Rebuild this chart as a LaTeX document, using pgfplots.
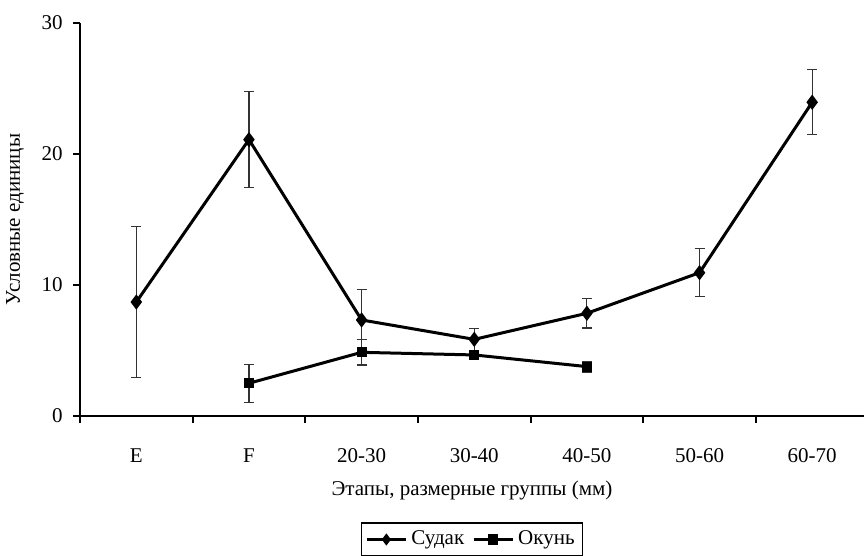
\documentclass[border=0pt]{standalone}
\usepackage{fontspec}
\setmainfont{Liberation Serif}
\usepackage{pgfplots}
\pgfplotsset{compat=1.18}
\usepackage{pgfplotstable}
\pgfplotstableread{
x y e
0 8.70 5.75
1 21.10 3.65
2 7.33 2.33
3 5.85 0.84
4 7.84 1.12
5 10.94 1.83
6 23.95 2.48
}\sudak
\pgfplotstableread{
x y e
1 2.50 1.45
2 4.86 0.97
3 4.66 0.30
4 3.77 0.42
}\okun
\begin{document}
\fontsize{10.5}{12}\selectfont
\begin{tikzpicture}[font=\fontsize{10.5}{12}\selectfont]
\begin{axis}[
  at={(0,0)}, anchor=south west,
  scale only axis, width=392pt, height=196.5pt,
  xmin=-0.5, xmax=6.46, ymin=0, ymax=30,
  axis x line*=bottom, axis y line*=left,
  axis line style={line width=1pt, -},
  xtick={-0.5,0.5,1.5,2.5,3.5,4.5,5.5},
  xticklabels={E,F,20-30,30-40,40-50,50-60,60-70},
  xticklabel style={anchor=base, xshift=28.16pt, yshift=-20pt},
  ytick={0,10,20,30},
  yticklabel style={anchor=east, xshift=-1.5pt},
  /pgf/number format/assume math mode=true,
  tick align=outside, major tick length=3.5pt,
  tick style={line width=1pt, black},
  xlabel={Этапы, размерные группы (мм)},
  xlabel style={at={(axis description cs:0.5,0)}, anchor=base, yshift=-40pt},
  ylabel={Условные единицы},
  ylabel style={at={(axis description cs:-0.0829,0.5)}, anchor=center},
  legend columns=-1,
  legend style={at={(axis description cs:0.5,0)}, anchor=center, yshift=-61.75pt,
    draw=black, line width=0.6pt, inner sep=2pt,
    /tikz/every even column/.append style={column sep=2pt}},
  legend image code/.code={\draw[mark repeat=2,mark phase=2, mark size=1.8pt] plot coordinates {(0pt,0pt)(9.75pt,0pt)(19.5pt,0pt)};},
  clip=false,
]
\addplot[black, line width=1.5pt, mark=diamond*, mark size=2.6pt, mark options={solid, fill=black},
  error bars/.cd, y dir=both, y explicit,
  error bar style={line width=0.6pt, black!80},
  error mark options={rotate=90, mark size=2.5pt, line width=0.6pt, black!80}]
  table[x=x, y=y, y error=e] {\sudak};
\addlegendentry{Судак}
\addplot[black, line width=1.5pt, mark=square*, mark size=1.8pt, mark options={solid, fill=black},
  error bars/.cd, y dir=both, y explicit,
  error bar style={line width=0.6pt, black!80},
  error mark options={rotate=90, mark size=2.5pt, line width=0.6pt, black!80}]
  table[x=x, y=y, y error=e] {\okun};
\addlegendentry{Окунь}
\end{axis}
\pgfresetboundingbox
\path (-40pt,-70pt) rectangle (392pt,208pt);
\end{tikzpicture}
\end{document}
